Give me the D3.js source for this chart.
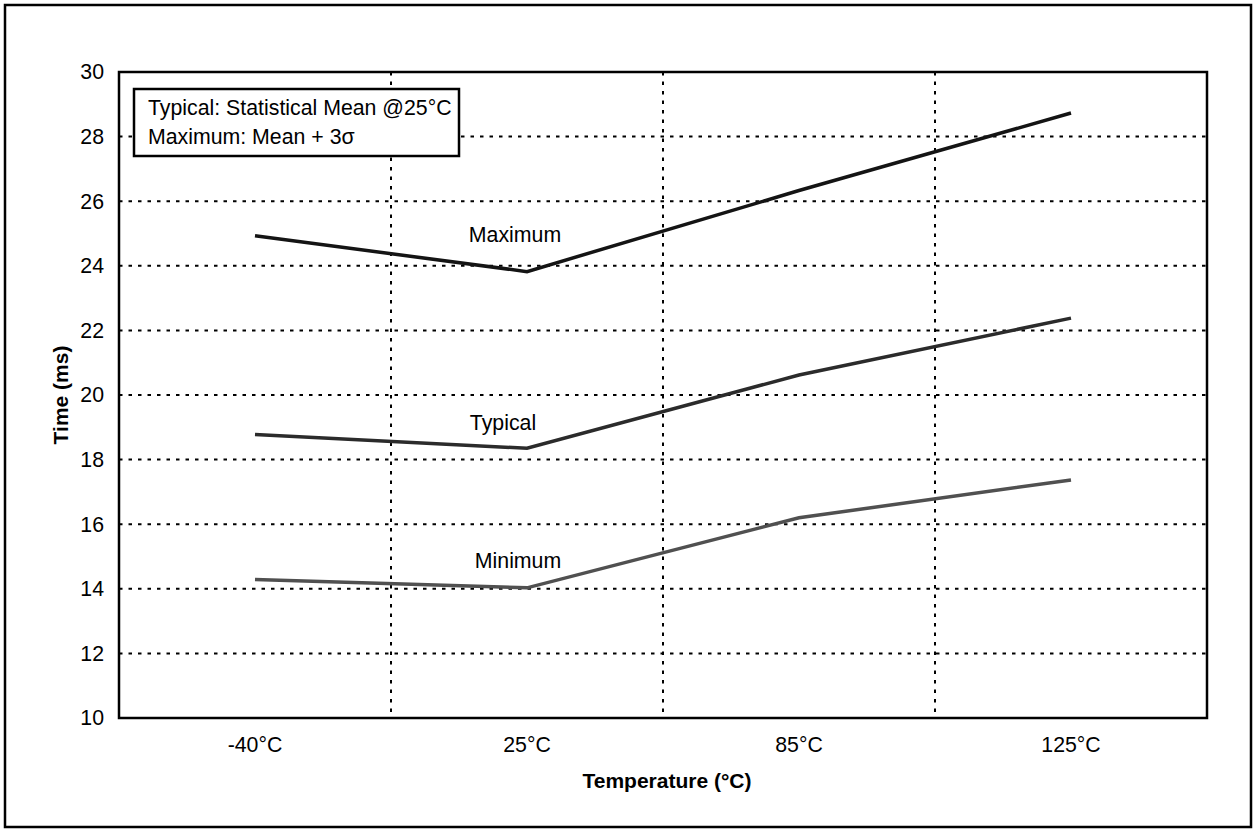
<!DOCTYPE html>
<html>
<head>
<meta charset="utf-8">
<script src="https://cdn.jsdelivr.net/npm/d3@7"></script>
<style>
  body { margin: 0; background: #fff; }
  svg text { font-family: "Liberation Sans", Arial, sans-serif; fill: #000; }
</style>
</head>
<body>
<svg id="chart" width="1257" height="833"></svg>
<script>
// data
var temps = ["-40°C", "25°C", "85°C", "125°C"];
var maximum = [24.93, 23.82, 26.33, 28.73];
var typical = [18.78, 18.35, 20.62, 22.38];
var minimum = [14.29, 14.03, 16.2, 17.37];
var yTicks = [10, 12, 14, 16, 18, 20, 22, 24, 26, 28, 30];
var seriesNames = ["Maximum", "Typical", "Minimum"];
var notes = ["Typical: Statistical Mean @25°C", "Maximum: Mean + 3σ"];

var series = [maximum, typical, minimum];
var colors = ["#141414", "#2b2b2b", "#505050"];
// label nudges relative to the 25°C point
var labelDx = [-12, -24, -9];
var labelDy = [-30, -18, -20];

var svg = d3.select("#chart");
var pLeft = 119, pRight = 1207, pTop = 72, pBottom = 718;
var fs = "21.3px";

// outer frame
svg.append("rect")
    .attr("x", 5).attr("y", 5)
    .attr("width", 1246).attr("height", 822)
    .attr("fill", "none").attr("stroke", "#000").attr("stroke-width", 2.5);

var x = d3.scaleBand().domain(temps).range([pLeft, pRight]);
var y = d3.scaleLinear().domain([10, 30]).range([pBottom, pTop]);

// horizontal grid
svg.append("g").selectAll("line")
    .data(yTicks.slice(1, -1))
    .enter().append("line")
    .attr("x1", pLeft).attr("x2", pRight)
    .attr("y1", d => y(d)).attr("y2", d => y(d))
    .attr("stroke", "#000").attr("stroke-width", 2)
    .attr("stroke-dasharray", "3.5,6");

// vertical grid between categories
svg.append("g").selectAll("line")
    .data(temps.slice(0, -1))
    .enter().append("line")
    .attr("x1", d => x(d) + x.bandwidth()).attr("x2", d => x(d) + x.bandwidth())
    .attr("y1", pTop).attr("y2", pBottom)
    .attr("stroke", "#000").attr("stroke-width", 2)
    .attr("stroke-dasharray", "3.5,6");

// plot frame
svg.append("rect")
    .attr("x", pLeft).attr("y", pTop)
    .attr("width", pRight - pLeft).attr("height", pBottom - pTop)
    .attr("fill", "none").attr("stroke", "#000").attr("stroke-width", 2.5);

// y axis labels
var yAxis = svg.append("g")
    .attr("transform", "translate(" + pLeft + ",0)")
    .call(d3.axisLeft(y).tickValues(yTicks).tickSize(0).tickPadding(15));
yAxis.select(".domain").remove();
yAxis.selectAll("text")
    .attr("font-size", fs)
    .attr("font-family", "Liberation Sans, Arial, sans-serif")
    .attr("fill", "#000");

// x axis labels
var xAxis = svg.append("g")
    .attr("transform", "translate(0," + pBottom + ")")
    .call(d3.axisBottom(x).tickSize(0));
xAxis.select(".domain").remove();
xAxis.selectAll("text")
    .attr("y", 34).attr("dy", 0)
    .attr("font-size", fs)
    .attr("font-family", "Liberation Sans, Arial, sans-serif")
    .attr("fill", "#000");

// axis titles
svg.append("text")
    .attr("x", 667).attr("y", 788)
    .attr("text-anchor", "middle")
    .attr("font-size", "21px").attr("font-weight", "bold")
    .text("Temperature (°C)");

svg.append("text")
    .attr("transform", "translate(68," + (pTop + pBottom) / 2 + ") rotate(-90)")
    .attr("text-anchor", "middle")
    .attr("font-size", "21px").attr("font-weight", "bold")
    .text("Time (ms)");

// lines
var line = d3.line()
    .x((d, i) => x(temps[i]) + x.bandwidth() / 2)
    .y(d => y(d));

svg.append("g").selectAll("path")
    .data(series)
    .enter().append("path")
    .attr("d", line)
    .attr("fill", "none")
    .attr("stroke", (d, i) => colors[i])
    .attr("stroke-width", 3.5);

// series labels
svg.append("g").selectAll("text")
    .data(series)
    .enter().append("text")
    .attr("x", (d, i) => x(temps[1]) + x.bandwidth() / 2 + labelDx[i])
    .attr("y", (d, i) => y(d[1]) + labelDy[i])
    .attr("text-anchor", "middle")
    .attr("font-size", fs)
    .text((d, i) => seriesNames[i]);

// note box
svg.append("rect")
    .attr("x", 134).attr("y", 89)
    .attr("width", 325).attr("height", 67)
    .attr("fill", "#fff").attr("stroke", "#000").attr("stroke-width", 2.5);

svg.append("g").selectAll("text")
    .data(notes)
    .enter().append("text")
    .attr("x", 148)
    .attr("y", (d, i) => 115 + i * 29)
    .attr("font-size", fs)
    .text(d => d);
</script>
</body>
</html>
